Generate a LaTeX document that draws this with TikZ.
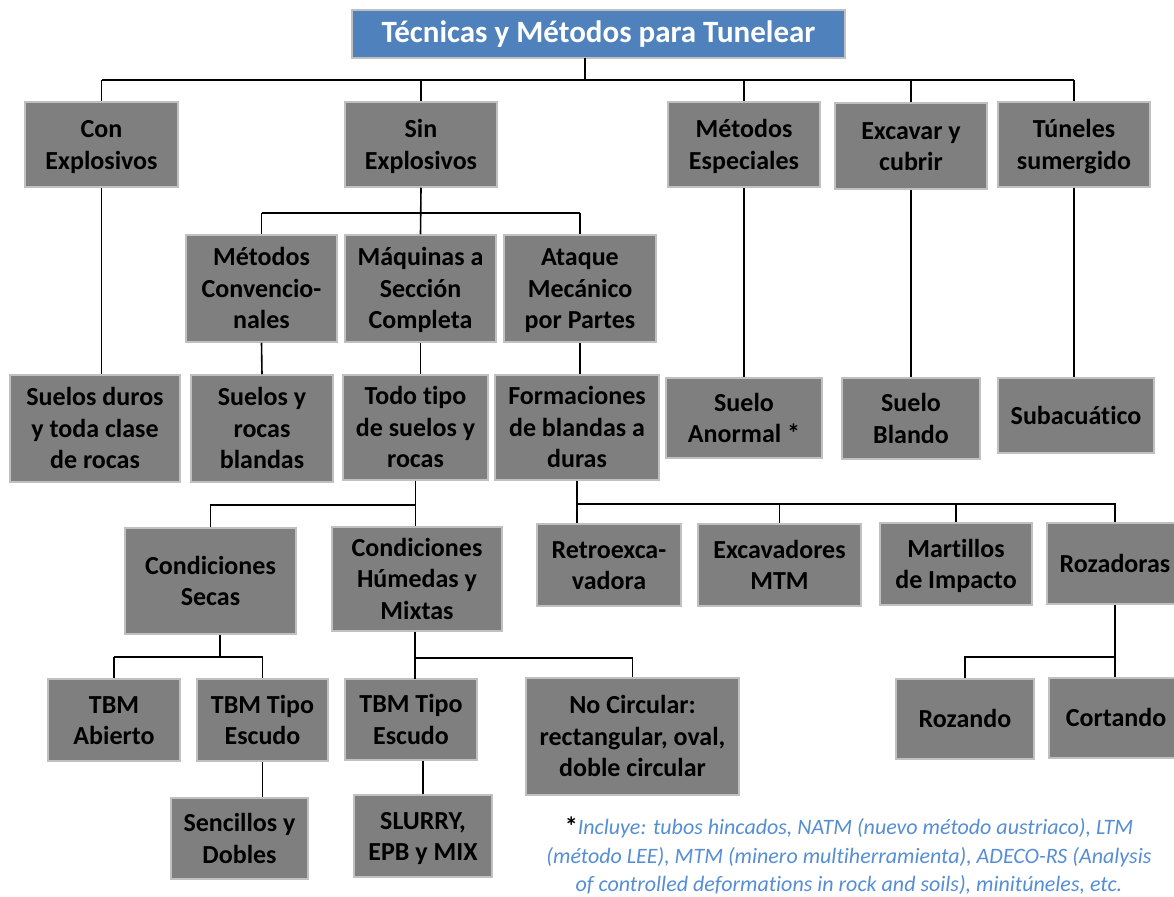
\documentclass[tikz,border=0pt]{standalone}
\usepackage{fontspec}
\setmainfont{Carlito}[Ligatures=NoCommon]
\definecolor{boxfill}{HTML}{7F7F7F}
\definecolor{boxline}{HTML}{C0C0C0}
\definecolor{titleblue}{HTML}{4F81BD}
\definecolor{notecol}{RGB}{85,142,213}
\newcommand\tp{\rule{0pt}{24.75pt}}
\begin{document}
\begin{tikzpicture}[x=1pt,y=-1pt,
  box/.style={draw=boxline, fill=boxfill, line width=1.5pt, inner sep=0pt, align=center,
    font=\fontsize{26}{31.5}\selectfont\bfseries, text=black,
    execute at end node={\rule[-7pt]{0pt}{7pt}}},
  titlebox/.style={draw=boxline, fill=titleblue, line width=1.5pt, inner sep=0pt, align=center,
    font=\fontsize{31}{36}\selectfont\bfseries, text=white},
  conn/.style={draw=black, line width=1.6pt},
  note/.style={align=center, text=notecol, font=\fontsize{22}{28.5}\selectfont\itshape}]
\clip (0,0) rectangle (1174,896);
\fill[white] (0,0) rectangle (1174,896);

% title
\node[titlebox, minimum width=493pt, minimum height=48pt] (title) at (598.5,34) {Técnicas y Métodos para Tunelear};

% level 1
\node[box, minimum width=153pt, minimum height=85pt] (con) at (101.5,144.5) {\tp Con\\Explosivos};
\node[box, minimum width=152pt, minimum height=85pt] (sin) at (421,144.5) {\tp Sin\\Explosivos};
\node[box, minimum width=152pt, minimum height=85pt] (esp) at (744,144.5) {\tp Métodos\\Especiales};
\node[box, minimum width=152pt, minimum height=86pt] (exc) at (911,146) {\tp Excavar y\\cubrir};
\node[box, minimum width=152pt, minimum height=85pt] (tun) at (1074,144.5) {\tp Túneles\\sumergido};

% level 2
\node[box, minimum width=151pt, minimum height=107pt] (conv) at (261.5,288.5) {\tp Métodos\\Convencio-\\nales};
\node[box, minimum width=151pt, minimum height=107pt] (maq) at (420.5,288.5) {\tp Máquinas a\\Sección\\Completa};
\node[box, minimum width=152pt, minimum height=107pt] (ata) at (580,288.5) {\tp Ataque\\Mecánico\\por Partes};

% level 3
\node[box, minimum width=170pt, minimum height=107pt] (duros) at (95,428.5) {\tp Suelos duros\\y toda clase\\de rocas};
\node[box, minimum width=142pt, minimum height=107pt] (blandas) at (262,428.5) {\tp Suelos y\\rocas\\blandas};
\node[box, minimum width=145pt, minimum height=105pt] (todo) at (415.5,427.5) {\tp Todo tipo\\de suelos y\\rocas};
\node[box, minimum width=164pt, minimum height=105pt] (form) at (577,427.5) {\tp Formaciones\\de blandas a\\duras};
\node[box, minimum width=156pt, minimum height=80pt] (anormal) at (744,418) {\tp Suelo\\Anormal *};
\node[box, minimum width=138pt, minimum height=81pt] (blando) at (911,418.5) {\tp Suelo\\Blando};
\node[box, minimum width=156pt, minimum height=75pt] (subac) at (1076,415.5) {\tp Subacuático};

% level 4
\node[box, minimum width=171pt, minimum height=106pt] (secas) at (210.5,581) {\tp Condiciones\\Secas};
\node[box, minimum width=170pt, minimum height=104pt] (humedas) at (417,579) {\tp Condiciones\\Húmedas y\\Mixtas};
\node[box, minimum width=144pt, minimum height=82pt] (retro) at (609,565) {\tp Retroexca-\\vadora};
\node[box, minimum width=163pt, minimum height=82pt] (excav) at (779.5,565) {\tp Excavadores\\MTM};
\node[box, minimum width=152pt, minimum height=82pt] (mart) at (956,564) {\tp Martillos\\de Impacto};
\node[box, minimum width=136pt, minimum height=81pt] (roza) at (1115,563.5) {\tp Rozadoras};

% level 5
\node[box, minimum width=132pt, minimum height=82pt] (tbmab) at (114,720) {\tp TBM\\Abierto};
\node[box, minimum width=131pt, minimum height=82pt] (tbmes1) at (262.5,720) {\tp TBM Tipo\\Escudo};
\node[box, minimum width=132pt, minimum height=81pt] (tbmes2) at (411,719.5) {\tp TBM Tipo\\Escudo};
\node[box, minimum width=213pt, minimum height=117pt] (nocirc) at (632.5,736.5) {\tp No Circular:\\rectangular, oval,\\doble circular};
\node[box, minimum width=138pt, minimum height=80pt] (rozando) at (965,719) {\tp Rozando};
\node[box, minimum width=134pt, minimum height=80pt] (cortando) at (1116,718) {\tp Cortando};

% level 6
\node[box, minimum width=137pt, minimum height=81pt] (sencillos) at (239.5,838.5) {\tp Sencillos y\\Dobles};
\node[box, minimum width=138pt, minimum height=82pt] (slurry) at (423,836) {\tp SLURRY,\\EPB y MIX};

% footnote
\node[note] (nota) at (849,856) {{\upshape\bfseries\color{black}\fontsize{26}{26}\selectfont\raisebox{-1pt}{*}}Incluye: tubos hincados, NATM (nuevo método austriaco), LTM\\(método LEE), MTM (minero multiherramienta), ADECO-RS (Analysis\\of controlled deformations in rock and soils), minitúneles, etc.};

% bus levels
\coordinate (b1) at (0,80);
\coordinate (b2) at (0,213);
\coordinate (b3a) at (0,505);
\coordinate (b3b) at (0,504);
\coordinate (b4a) at (0,657);
\coordinate (b4c) at (0,657);
\coordinate (td) at (585,58);

% connectors
\draw[conn] (td) -- (td |- b1);
\draw[conn] (con.north |- b1) -- (tun.north |- b1);
\foreach \n in {con,sin,esp,exc,tun} \draw[conn] (\n.north |- b1) -- (\n.north);

\draw[conn] (sin.south) -- (maq.north);
\draw[conn] (conv.north |- b2) -- (ata.north |- b2);
\draw[conn] (conv.north |- b2) -- (conv.north);
\draw[conn] (ata.north |- b2) -- (ata.north);

\draw[conn] (con.south) -- (con.south |- duros.north);
\draw[conn] (conv.south) -- (blandas.north);
\draw[conn] (maq.south) -- (maq.south |- todo.north);
\draw[conn] (ata.south) -- (ata.south |- form.north);
\draw[conn] (esp.south) -- (anormal.north);
\draw[conn] (exc.south) -- (blando.north);
\draw[conn] (tun.south) -- (tun.south |- subac.north);

\draw[conn] (todo.south) -- (todo.south |- b3a) -| (secas.north);
\draw[conn] (todo.south |- b3a) -- (todo.south |- humedas.north);

\draw[conn] (form.south) -- (form.south |- retro.north);
\draw[conn] (form.south |- b3b) -- (roza.north |- b3b) -- (roza.north);
\draw[conn] (excav.north |- b3b) -- (excav.north);
\draw[conn] (mart.north |- b3b) -- (mart.north);

\draw[conn] (secas.south -| 220,0) -- (220,657);
\draw[conn] (tbmab.north |- b4a) -- (tbmes1.north |- b4a);
\draw[conn] (tbmab.north |- b4a) -- (tbmab.north);
\draw[conn] (tbmes1.north |- b4a) -- (tbmes1.north);

\draw[conn] (humedas.south -| 415,0) -- (415,679);
\draw[conn] (415,658) -| (nocirc.north);

\draw[conn] (roza.south) -- (roza.south |- cortando.north);
\draw[conn] (roza.south |- b4c) -| (rozando.north);

\draw[conn] (tbmes1.south) -- (tbmes1.south |- sencillos.north);
\draw[conn] (slurry.north) -- (slurry.north |- tbmes2.south);
\end{tikzpicture}
\end{document}
